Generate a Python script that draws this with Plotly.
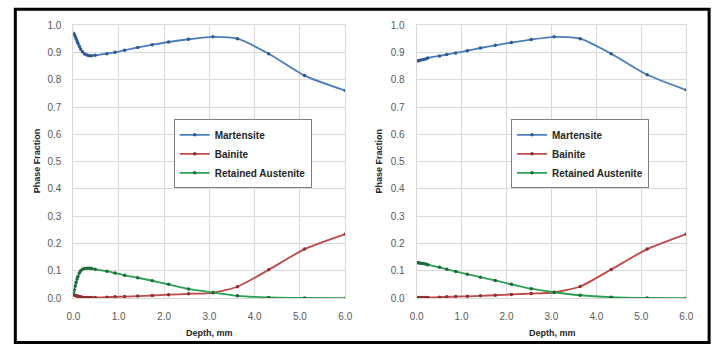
import plotly.graph_objects as go

# ---------------- data ----------------
depth_left = [0.0, 0.02, 0.04, 0.06, 0.08, 0.1, 0.13, 0.16, 0.2, 0.25, 0.3, 0.35, 0.4,
              0.48, 0.74, 0.92, 1.13, 1.42, 1.74, 2.10, 2.54, 3.08, 3.62, 4.31, 5.10, 6.0]
mart_left = [0.97, 0.965, 0.958, 0.95, 0.942, 0.933, 0.922, 0.912, 0.902, 0.894, 0.89, 0.888, 0.888,
             0.889, 0.895, 0.90, 0.908, 0.918, 0.928, 0.938, 0.948, 0.957, 0.950, 0.895, 0.815, 0.76]
bain_left = [0.012, 0.011, 0.01, 0.009, 0.008, 0.007, 0.006, 0.005, 0.004, 0.003, 0.003, 0.003, 0.003,
             0.003, 0.004, 0.005, 0.006, 0.008, 0.01, 0.013, 0.016, 0.02, 0.042, 0.104, 0.18, 0.235]
ra_left = [0.018, 0.03, 0.045, 0.058, 0.07, 0.08, 0.092, 0.1, 0.106, 0.109, 0.11, 0.11, 0.109,
           0.106, 0.099, 0.092, 0.084, 0.075, 0.064, 0.051, 0.034, 0.021, 0.009, 0.003, 0.001, 0.0]

depth_right = [0.0, 0.03, 0.06, 0.1, 0.15, 0.2, 0.25, 0.51, 0.67, 0.87, 1.13, 1.42, 1.75,
               2.11, 2.55, 3.06, 3.64, 4.33, 5.13, 6.0]
mart_right = [0.868, 0.869, 0.870, 0.872, 0.874, 0.876, 0.879, 0.887, 0.892, 0.898, 0.906, 0.916, 0.926,
              0.936, 0.947, 0.957, 0.950, 0.895, 0.818, 0.762]
bain_right = [0.003, 0.003, 0.003, 0.003, 0.003, 0.003, 0.003, 0.004, 0.005, 0.006, 0.007, 0.009, 0.011,
              0.014, 0.017, 0.021, 0.043, 0.105, 0.18, 0.235]
ra_right = [0.131, 0.13, 0.129, 0.128, 0.127, 0.125, 0.123, 0.113, 0.106, 0.098, 0.088, 0.077, 0.065,
            0.051, 0.035, 0.022, 0.011, 0.004, 0.001, 0.0]

series_names = ["Martensite", "Bainite", "Retained Austenite"]
line_colors = ["#4a7ebb", "#be4b48", "#2aa052"]
marker_colors = ["#2f5a8f", "#8c2f2d", "#1a6b35"]

x_ticks = [0, 1, 2, 3, 4, 5, 6]
y_ticks = [0.0, 0.1, 0.2, 0.3, 0.4, 0.5, 0.6, 0.7, 0.8, 0.9, 1.0]

W, H = 722, 352

fig = go.Figure()

panels = [
    ("x", "y", "legend", depth_left, [mart_left, bain_left, ra_left]),
    ("x2", "y2", "legend2", depth_right, [mart_right, bain_right, ra_right]),
]
for xa, ya, lg, depth, vals in panels:
    for name, v, lc, mc in zip(series_names, vals, line_colors, marker_colors):
        fig.add_trace(go.Scatter(
            x=depth, y=v, name=name, xaxis=xa, yaxis=ya, legend=lg,
            mode="lines+markers",
            line=dict(color=lc, width=1.8, shape="spline", smoothing=0.6),
            marker=dict(color=mc, size=3.5, symbol="circle"),
        ))

def px_x(p):
    return p / W

def px_y(p):
    return 1 - p / H

tickfont = dict(family="Liberation Sans, Arial", size=10, color="#595959")
axis_common = dict(
    showgrid=True, gridcolor="#d9d9d9", gridwidth=1,
    showline=True, linecolor="#d9d9d9", linewidth=1, mirror=True,
    zeroline=False, tickfont=tickfont,
    ticks="outside", tickcolor="rgba(0,0,0,0)",
)

legend_font = dict(family="Liberation Sans, Arial", size=10, color="#262626", weight="bold")

fig.update_layout(
    width=W, height=H,
    margin=dict(l=0, r=0, t=0, b=0),
    paper_bgcolor="white", plot_bgcolor="white",
    xaxis=dict(domain=[px_x(67.7), px_x(345)], range=[0, 6], tickvals=x_ticks,
               tickformat=".1f", anchor="y", ticklen=9, **axis_common),
    yaxis=dict(domain=[px_y(302.7), px_y(20.7)], range=[0, 1], tickvals=y_ticks,
               tickformat=".1f", anchor="x", ticklen=9, **axis_common),
    xaxis2=dict(domain=[px_x(417.7), px_x(692.7)], range=[0, 6], tickvals=x_ticks,
                tickformat=".1f", anchor="y2", ticklen=9, **axis_common),
    yaxis2=dict(domain=[px_y(302.7), px_y(20.7)], range=[0, 1], tickvals=y_ticks,
                tickformat=".1f", anchor="x2", ticklen=9, **axis_common),
    legend=dict(x=px_x(170), y=px_y(118), xanchor="left", yanchor="top",
                bgcolor="white", bordercolor="#7f7f7f", borderwidth=1,
                font=legend_font, itemwidth=30, tracegroupgap=0),
    legend2=dict(x=px_x(514), y=px_y(118), xanchor="left", yanchor="top",
                 bgcolor="white", bordercolor="#7f7f7f", borderwidth=1,
                 font=legend_font, itemwidth=30, tracegroupgap=0),
    showlegend=True,
)

title_font = dict(family="Liberation Sans, Arial", size=9, color="#262626", weight="bold")
annos = [
    dict(text="Phase Fraction", x=px_x(31), y=px_y(161), textangle=-90),
    dict(text="Phase Fraction", x=px_x(379), y=px_y(161), textangle=-90),
    dict(text="Depth, mm", x=px_x(206), y=px_y(339)),
    dict(text="Depth, mm", x=px_x(556), y=px_y(339)),
]
for a in annos:
    fig.add_annotation(xref="paper", yref="paper", showarrow=False,
                       xanchor="center", yanchor="middle", font=title_font, **a)

# outer black frame
fig.add_shape(type="rect", xref="paper", yref="paper",
              x0=px_x(8.5), x1=px_x(716), y0=px_y(348.5), y1=px_y(4.5),
              line=dict(color="black", width=3), fillcolor="rgba(0,0,0,0)")

fig.write_html("out.html")
